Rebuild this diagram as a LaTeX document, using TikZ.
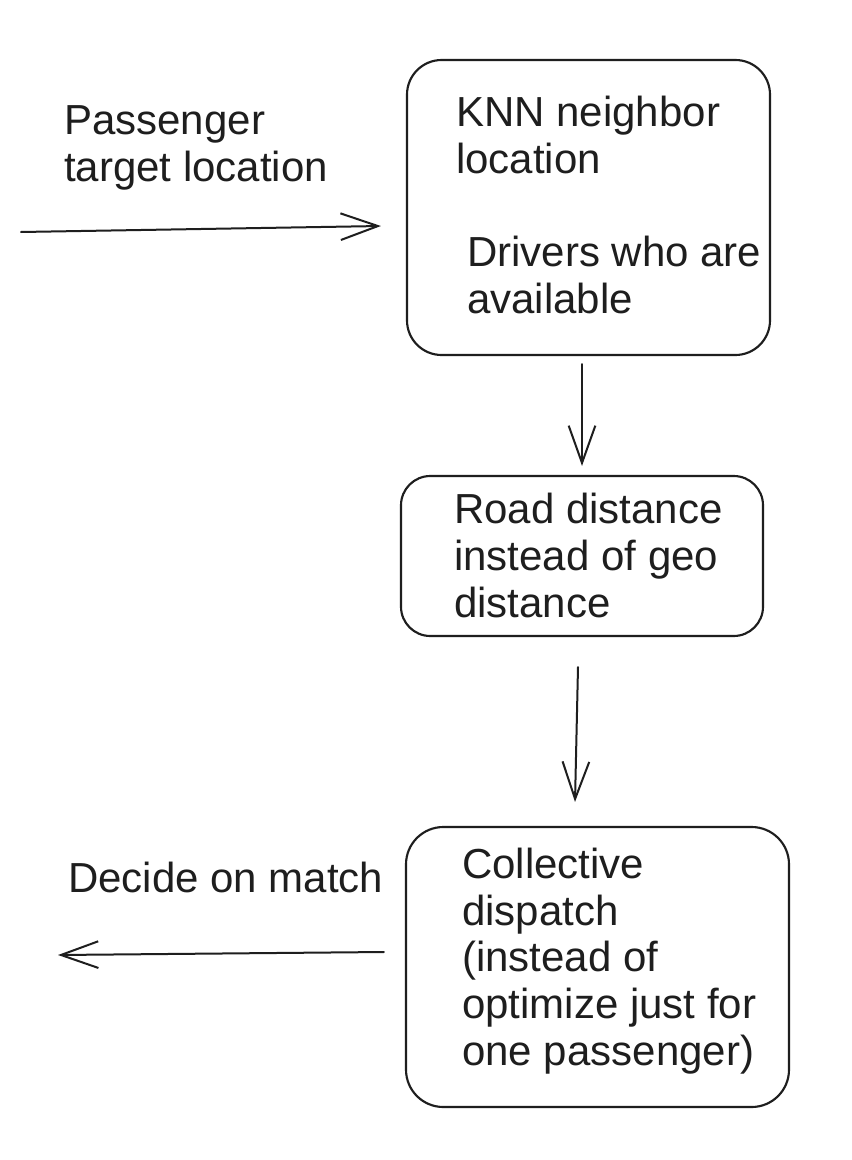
\documentclass[tikz,border=0pt]{standalone}
\usepackage{fontspec}
\setmainfont{Liberation Sans}
\usetikzlibrary{arrows.meta}
\definecolor{ink}{HTML}{1E1E1E}
\begin{document}
\begin{tikzpicture}[x=0.75pt,y=-0.75pt,
  box/.style={draw=ink, line width=1.6pt, rounded corners=26pt, inner sep=0pt},
  lbl/.style={text=ink, align=left, anchor=base west, inner sep=0pt,
    font={\fontsize{31.5}{34.9}\selectfont}},
  arr/.style={draw=ink, line width=1.5pt, line cap=round,
    -{Straight Barb[length=28pt,width=20pt,line width=1.5pt]}}]
\useasboundingbox[fill=white] (0,0) rectangle (852,1160);

% boxes
\node[box, minimum width=272.25pt, minimum height=221.25pt] (b1) at (588.5,207.5) {};
\node[box, rounded corners=22pt, minimum width=271.5pt, minimum height=120pt] (b2) at (582,556) {};
\node[box, rounded corners=28pt, minimum width=287.25pt, minimum height=210pt] (b3) at (597.5,967) {};

% texts (anchor = baseline of the last line)
\node[lbl] (t1) at (64,181) {Passenger\\target location};
\node[lbl] (t2) at (456,173) {KNN neighbor\\location};
\node[lbl] (t3) at (467,313) {Drivers who are\\available};
\node[lbl] (t4) at (454,617) {Road distance\\instead of geo\\distance};
\node[lbl] (t5) at (462,1065) {Collective\\dispatch\\(instead of\\optimize just for\\one passenger)};
\node[lbl] (t6) at (68,892) {Decide on match};

% free ends
\coordinate (inS) at (21,232);
\coordinate (outE) at (58,955);

% connectors
\draw[arr] (inS) -- ([shift={(-25,18.5)}]b1.west);
\draw[arr] ([shift={(-6.5,8)}]b1.south) -- ([shift={(0,-9)}]b2.north);
\draw[arr] ([shift={(-4,30)}]b2.south) -- ([shift={(-22.5,-24)}]b3.north);
\draw[arr] ([shift={(-21,-15)}]b3.west) -- (outE);
\end{tikzpicture}
\end{document}
